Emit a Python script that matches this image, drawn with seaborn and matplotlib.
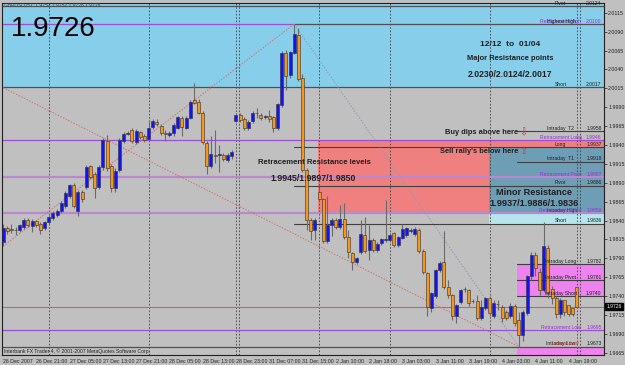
import matplotlib
matplotlib.use("Agg")
import matplotlib.pyplot as plt
import matplotlib.transforms as mtransforms
import numpy as np
import pandas as pd
import seaborn as sns

# ---------------- data ----------------
opens = [1.9811, 1.9830, 1.9829, 1.9828, 1.9827, 1.9831, 1.9841, 1.9833, 1.9839, 1.9835,
         1.9830, 1.9838, 1.9843, 1.9847, 1.9853, 1.9859, 1.9872, 1.9887, 1.9853, 1.9878,
         1.9884, 1.9912, 1.9902, 1.9884, 1.9911, 1.9945, 1.9912, 1.9883, 1.9907, 1.9945,
         1.9955, 1.9960, 1.9944, 1.9957, 1.9952, 1.9948, 1.9964, 1.9971, 1.9965, 1.9956,
         1.9953, 1.9956, 1.9963, 1.9976, 1.9963, 1.9976, 2.0000, 1.9997, 1.9983, 1.9943,
         1.9912, 1.9927, 1.9927, 1.9927, 1.9920, 1.9925, 1.9972, 1.9980, 1.9975, 1.9963,
         1.9972, 1.9983, 1.9980, 1.9977, 1.9979, 1.9977, 1.9963, 1.9993, 2.0062, 2.0033,
         2.0062, 2.0086, 2.0029, 1.9907, 1.9841, 1.9827, 1.9878, 1.9868, 1.9813, 1.9834,
         1.9841, 1.9831, 1.9842, 1.9818, 1.9797, 1.9785, 1.9798, 1.9821, 1.9801, 1.9814,
         1.9801, 1.9810, 1.9814, 1.9814, 1.9823, 1.9808, 1.9817, 1.9821, 1.9826, 1.9822,
         1.9827, 1.9800, 1.9770, 1.9724, 1.9740, 1.9774, 1.9785, 1.9752, 1.9741, 1.9713,
         1.9732, 1.9749, 1.9748, 1.9733, 1.9733, 1.9711, 1.9724, 1.9737, 1.9713, 1.9729,
         1.9725, 1.9719, 1.9713, 1.9727, 1.9708, 1.9688, 1.9717, 1.9766, 1.9794, 1.9772,
         1.9748, 1.9804, 1.9750, 1.9738, 1.9716, 1.9735, 1.9728, 1.9724, 1.9752]
closes = [1.9830, 1.9826, 1.9828, 1.9827, 1.9834, 1.9841, 1.9834, 1.9839, 1.9834, 1.9827,
          1.9838, 1.9845, 1.9850, 1.9853, 1.9863, 1.9876, 1.9887, 1.9859, 1.9878, 1.9868,
          1.9911, 1.9898, 1.9883, 1.9911, 1.9947, 1.9910, 1.9883, 1.9906, 1.9947, 1.9955,
          1.9956, 1.9945, 1.9959, 1.9951, 1.9947, 1.9963, 1.9972, 1.9968, 1.9956, 1.9955,
          1.9956, 1.9967, 1.9977, 1.9964, 1.9976, 1.9997, 1.9996, 1.9983, 1.9944, 1.9912,
          1.9928, 1.9926, 1.9928, 1.9922, 1.9927, 1.9931, 1.9980, 1.9973, 1.9963, 1.9971,
          1.9983, 1.9982, 1.9976, 1.9978, 1.9975, 1.9963, 1.9994, 2.0062, 2.0032, 2.0063,
          2.0087, 2.0028, 1.9907, 1.9841, 1.9826, 1.9841, 1.9868, 1.9813, 1.9834, 1.9841,
          1.9831, 1.9842, 1.9818, 1.9798, 1.9785, 1.9790, 1.9822, 1.9800, 1.9814, 1.9801,
          1.9809, 1.9815, 1.9815, 1.9821, 1.9808, 1.9818, 1.9829, 1.9830, 1.9827, 1.9829,
          1.9800, 1.9772, 1.9725, 1.9744, 1.9774, 1.9784, 1.9752, 1.9741, 1.9713, 1.9728,
          1.9748, 1.9750, 1.9731, 1.9734, 1.9711, 1.9725, 1.9737, 1.9717, 1.9731, 1.9730,
          1.9711, 1.9711, 1.9727, 1.9704, 1.9688, 1.9719, 1.9766, 1.9794, 1.9777, 1.9748,
          1.9806, 1.9744, 1.9738, 1.9716, 1.9735, 1.9719, 1.9716, 1.9716, 1.9726]
highs = [1.9835, 1.9833, 1.9835, 1.9831, 1.9836, 1.9843, 1.9843, 1.9842, 1.9841, 1.9838,
         1.9840, 1.9847, 1.9852, 1.9855, 1.9866, 1.9879, 1.9889, 1.9890, 1.9880, 1.9880,
         1.9913, 1.9914, 1.9904, 1.9914, 1.9949, 1.9953, 1.9915, 1.9909, 1.9949, 1.9957,
         1.9959, 1.9962, 1.9961, 1.9959, 1.9954, 1.9973, 1.9975, 1.9974, 1.9968, 1.9960,
         1.9958, 1.9969, 1.9979, 1.9978, 1.9978, 1.9999, 2.0022, 2.0001, 1.9985, 1.9945,
         1.9952, 1.9960, 1.9940, 1.9929, 1.9929, 1.9933, 1.9982, 1.9982, 1.9977, 1.9973,
         1.9985, 1.9989, 1.9982, 1.9980, 1.9986, 1.9979, 1.9996, 2.0064, 2.0066, 2.0065,
         2.0100, 2.0095, 2.0034, 1.9909, 1.9843, 1.9843, 1.9883, 1.9870, 1.9872, 1.9843,
         1.9844, 1.9860, 1.9863, 1.9827, 1.9799, 1.9792, 1.9841, 1.9845, 1.9834, 1.9817,
         1.9811, 1.9817, 1.9867, 1.9823, 1.9825, 1.9820, 1.9835, 1.9832, 1.9830, 1.9831,
         1.9830, 1.9802, 1.9772, 1.9746, 1.9776, 1.9786, 1.9826, 1.9761, 1.9743, 1.9730,
         1.9750, 1.9752, 1.9750, 1.9736, 1.9741, 1.9735, 1.9739, 1.9740, 1.9735, 1.9735,
         1.9728, 1.9721, 1.9731, 1.9729, 1.9719, 1.9721, 1.9768, 1.9798, 1.9798, 1.9777,
         1.9838, 1.9808, 1.9754, 1.9740, 1.9737, 1.9731, 1.9726, 1.9724, 1.9752]
lows = [1.9806, 1.9822, 1.9823, 1.9821, 1.9825, 1.9829, 1.9831, 1.9825, 1.9831, 1.9822,
        1.9828, 1.9835, 1.9841, 1.9845, 1.9850, 1.9857, 1.9870, 1.9857, 1.9846, 1.9865,
        1.9882, 1.9895, 1.9870, 1.9882, 1.9907, 1.9906, 1.9878, 1.9878, 1.9904, 1.9943,
        1.9953, 1.9943, 1.9941, 1.9948, 1.9944, 1.9945, 1.9961, 1.9965, 1.9953, 1.9945,
        1.9951, 1.9952, 1.9961, 1.9952, 1.9961, 1.9974, 1.9994, 1.9981, 1.9941, 1.9902,
        1.9909, 1.9916, 1.9904, 1.9919, 1.9917, 1.9922, 1.9970, 1.9970, 1.9960, 1.9960,
        1.9969, 1.9976, 1.9973, 1.9975, 1.9971, 1.9957, 1.9960, 1.9990, 2.0013, 2.0029,
        2.0060, 2.0025, 1.9904, 1.9827, 1.9814, 1.9814, 1.9866, 1.9810, 1.9810, 1.9820,
        1.9829, 1.9829, 1.9815, 1.9790, 1.9774, 1.9782, 1.9796, 1.9797, 1.9788, 1.9798,
        1.9798, 1.9808, 1.9811, 1.9811, 1.9805, 1.9805, 1.9815, 1.9818, 1.9823, 1.9820,
        1.9797, 1.9769, 1.9713, 1.9719, 1.9737, 1.9772, 1.9749, 1.9738, 1.9708, 1.9704,
        1.9729, 1.9746, 1.9727, 1.9731, 1.9708, 1.9708, 1.9721, 1.9714, 1.9711, 1.9721,
        1.9706, 1.9708, 1.9711, 1.9700, 1.9673, 1.9681, 1.9715, 1.9761, 1.9766, 1.9741,
        1.9745, 1.9737, 1.9730, 1.9711, 1.9711, 1.9713, 1.9713, 1.9713, 1.9726]

time_labels = ["26 Dec 2007", "26 Dec 21:00", "27 Dec 05:00", "27 Dec 13:00",
               "27 Dec 21:00", "28 Dec 05:00", "28 Dec 13:00", "28 Dec 23:00",
               "31 Dec 07:00", "31 Dec 15:00", "2 Jan 10:00", "2 Jan 18:00",
               "3 Jan 03:00", "3 Jan 11:00", "3 Jan 19:00", "4 Jan 03:00",
               "4 Jan 11:00", "4 Jan 19:00"]
label_step = 8
day_starts = [11, 35, 56, 76, 93, 117, 138]
double_days = [56, 138]

axis_ticks = [2.0115, 2.0090, 2.0065, 2.0040, 2.0015, 1.9990, 1.9965, 1.9940, 1.9915,
              1.9890, 1.9865, 1.9840, 1.9815, 1.9790, 1.9765, 1.9740, 1.9715, 1.9690, 1.9665]

# pivot / retracement levels
level_names = ["Pivot", "Retracement High", "Short", "Intraday  T2", "Retracement Long",
               "Long", "Intraday  T1", "Retracement Pivot", "Pivot", "Retracement Short",
               "Short", "Intraday Long", "Intraday Pivot", "Intraday Short",
               "Retracement Low", "Intraday Low"]
level_prices = [2.0124, 2.0100, 2.0017, 1.9958, 1.9946, 1.9937, 1.9918, 1.9897, 1.9886,
                1.9850, 1.9836, 1.9782, 1.9761, 1.9740, 1.9695, 1.9673]
level_kind = ["major", "retr", "major", "intra", "retr", "daily", "intra", "retr2",
              "daily", "retr2", "daily", "intra", "intra", "intra", "retr", "major"]

last_price = 1.9726
peak_idx, low_idx = 70, 124
intraday_start = 123.6

# -------------------------------------------------------------
sns.set_style("white")
plt.rcParams['font.family'] = ['Liberation Sans', 'DejaVu Sans']

BG = "#C0C0C0"
fig = plt.figure(figsize=(6.25, 3.65), dpi=100, facecolor=BG)
ax = fig.add_axes([2 / 625, 10 / 365, 602 / 625, 352 / 365])
ax.set_facecolor(BG)

n = len(opens)
df = pd.DataFrame({"i": np.arange(n), "open": opens, "high": highs,
                   "low": lows, "close": closes})
XMIN, XMAX = -0.25, 144.5
YMIN, YMAX = 1.9662, 2.0128
ax.set_xlim(XMIN, XMAX)
ax.set_ylim(YMIN, YMAX)

# zones
ax.axhspan(2.0017, 2.0230, color="#87CEEB", zorder=0.2, lw=0)
ax.fill_between([day_starts[3] - 0.3, XMAX], 1.9850, 1.9945, color="#F08080", zorder=0.3, lw=0)
ax.fill_between([day_starts[5] - 0.1, XMAX], 1.9850, 1.9937, color="#6E9DB6", zorder=0.35, lw=0)
ax.fill_between([day_starts[5] - 0.1, XMAX], 1.9836, 1.9850, color="#B4E6EC", zorder=0.35, lw=0)
ax.fill_between([intraday_start, XMAX], 1.9740, 1.9782, color="#EE82EE", zorder=0.35, lw=0)
ax.fill_between([intraday_start, XMAX], 1.9600, 1.9673, color="#EE82EE", zorder=0.35, lw=0)

# day separators
for d in day_starts:
    ax.axvline(d, color="#404040", lw=0.6, ls=(0, (2, 2)), zorder=0.8)
for d in double_days:
    ax.axvline(d + 0.8, color="#404040", lw=0.6, ls=(0, (2, 2)), zorder=0.8)

# level lines
for name, p, k in zip(level_names, level_prices, level_kind):
    if k == "major":
        ax.axhline(p, color="#505050", lw=0.9, zorder=1)
    elif k == "retr":
        ax.axhline(p, color="#9A50D0", lw=0.9, zorder=1)
    elif k == "retr2":
        ax.axhline(p, color="#B888D0", lw=1.6, zorder=1)
    elif k == "daily":
        ax.plot([peak_idx, XMAX], [p, p], color="#404040", lw=0.8, zorder=1)
    elif k == "intra":
        ax.plot([intraday_start, XMAX], [p, p], color="#404040", lw=0.8, zorder=1)
ax.plot([peak_idx, XMAX], [level_prices[1]] * 2, color="#505050", lw=0.8, zorder=1.1)
ax.axhline(last_price, color="#C86464", lw=0.8, zorder=1)

# trend lines
sns.lineplot(x=[0, low_idx], y=[2.0016, 1.9673], ax=ax, color="#D07070", lw=0.7,
             linestyle=(0, (1.5, 1.5)), zorder=1.2)
sns.lineplot(x=[0, peak_idx], y=[1.9806, 2.0100], ax=ax, color="#D07070", lw=0.7,
             linestyle=(0, (1.5, 1.5)), zorder=1.2)
sns.lineplot(x=[peak_idx, low_idx], y=[2.0100, 1.9673], ax=ax, color="#8C9CB0", lw=0.7,
             linestyle=(0, (1.5, 1.5)), zorder=1.2)

# candles
up = df["close"] >= df["open"]
ax.vlines(df["i"], df["low"], df["high"], color="#6A6A6A", lw=0.8, zorder=2)
body_h = (df["close"] - df["open"]).abs().clip(lower=0.00007)
body_b = df[["open", "close"]].min(axis=1)
ax.bar(df["i"][up], body_h[up], bottom=body_b[up], width=0.72, color="#1414F0",
       edgecolor="#303030", lw=0.4, zorder=3)
ax.bar(df["i"][~up], body_h[~up], bottom=body_b[~up], width=0.72, color="#F5961E",
       edgecolor="#303030", lw=0.4, zorder=3)

# level labels
blend = mtransforms.blended_transform_factory(ax.transAxes, ax.transData)
lbl_fs = 3.6
for name, p, k in zip(level_names, level_prices, level_kind):
    col = "#9A30D0" if k in ("retr", "retr2") else "#202020"
    ax.text(0.928, p + 0.00004, name, transform=blend, fontsize=lbl_fs, color=col,
            ha="center", va="bottom", zorder=5)
    ax.text(0.996, p + 0.00004, f"{p:.4f}", transform=blend, fontsize=lbl_fs, color=col,
            ha="right", va="bottom", zorder=5)
ax.text(0.93, level_prices[1] + 0.00004, "Highest High", transform=blend, fontsize=lbl_fs,
        color="#202020", ha="center", va="bottom", zorder=5)
ax.text(0.93, 1.9850 + 0.00004, "Intraday High", transform=blend, fontsize=lbl_fs,
        color="#202020", ha="center", va="bottom", zorder=5, alpha=0.7)
ax.text(0.935, 1.9673 + 0.00004, "Lowest Low", transform=blend, fontsize=lbl_fs,
        color="#C03030", ha="center", va="bottom", zorder=5)

# annotations
ax.text(0.015, 2.0093, f"{last_price:.4f}", transform=blend, fontsize=20,
        color="black", ha="left", va="center", zorder=5)
ax.text(0.004, 2.01255, "GBPUSD,H1  1.9752 1.9752 1.9726 1.9726", transform=blend,
        fontsize=3.6, color="#404040", ha="left", va="center", zorder=5)
bold = dict(fontweight="bold", color="#202020", ha="center", va="center", zorder=5)
ax.text(121.9, 2.0073, "12/12  to  01/04", fontsize=6.0, **bold)
ax.text(121.9, 2.0055, "Major Resistance points", fontsize=5.4, **bold)
ax.text(121.9, 2.0033, "2.0230/2.0124/2.0017", fontsize=6.2, **bold)
ax.text(123.8, 1.9956, "Buy dips above here", fontsize=5.4, ha="right", va="center",
        fontweight="bold", color="#202020", zorder=5)
ax.text(123.8, 1.9931, "Sell rally's below here", fontsize=5.4, ha="right", va="center",
        fontweight="bold", color="#202020", zorder=5)
ax.text(125.0, 1.9957, "\u21e9", fontsize=7, color="#E03030", ha="center", va="center",
        zorder=5, family="DejaVu Sans")
ax.text(125.0, 1.9932, "\u21e7", fontsize=7, color="#E03030", ha="center", va="center",
        zorder=5, family="DejaVu Sans")
ax.text(74.8, 1.9917, "Retracement Resistance levels", fontsize=5.6, **bold)
ax.text(74.5, 1.9896, "1.9945/1.9897/1.9850", fontsize=6.3, **bold)
ax.text(127.6, 1.9877, "Minor Resistance", fontsize=6.6, **bold)
ax.text(127.8, 1.9862, "1.9937/1.9886/1.9836", fontsize=6.6, **bold)
ax.text(0.004, 1.96665, "Interbank FX Trader 4, \u00a9 2001-2007 MetaQuotes Software Corp.",
        transform=blend, fontsize=3.6, color="#202020", ha="left", va="center", zorder=5)

# price tag on the axis
ax.text(1.004, last_price, f"{last_price:.4f}", transform=blend, fontsize=3.6, color="white",
        ha="left", va="center", zorder=6, clip_on=False,
        bbox=dict(boxstyle="square,pad=0.2", fc="black", ec="black"))

# axes
ax.yaxis.tick_right()
ax.set_yticks(axis_ticks)
ax.set_yticklabels([f"{t:.4f}" for t in axis_ticks])
xt = [k * label_step for k in range(len(time_labels))]
ax.set_xticks(xt)
ax.set_xticklabels(time_labels, ha="left")
ax.tick_params(axis="both", labelsize=3.8, colors="#202020", length=2, width=0.5, pad=1)
for s in ax.spines.values():
    s.set_color("#202020")
    s.set_linewidth(0.8)
ax.set_xlabel("")
ax.set_ylabel("")

fig.savefig("out.png", dpi=100, facecolor=BG)
